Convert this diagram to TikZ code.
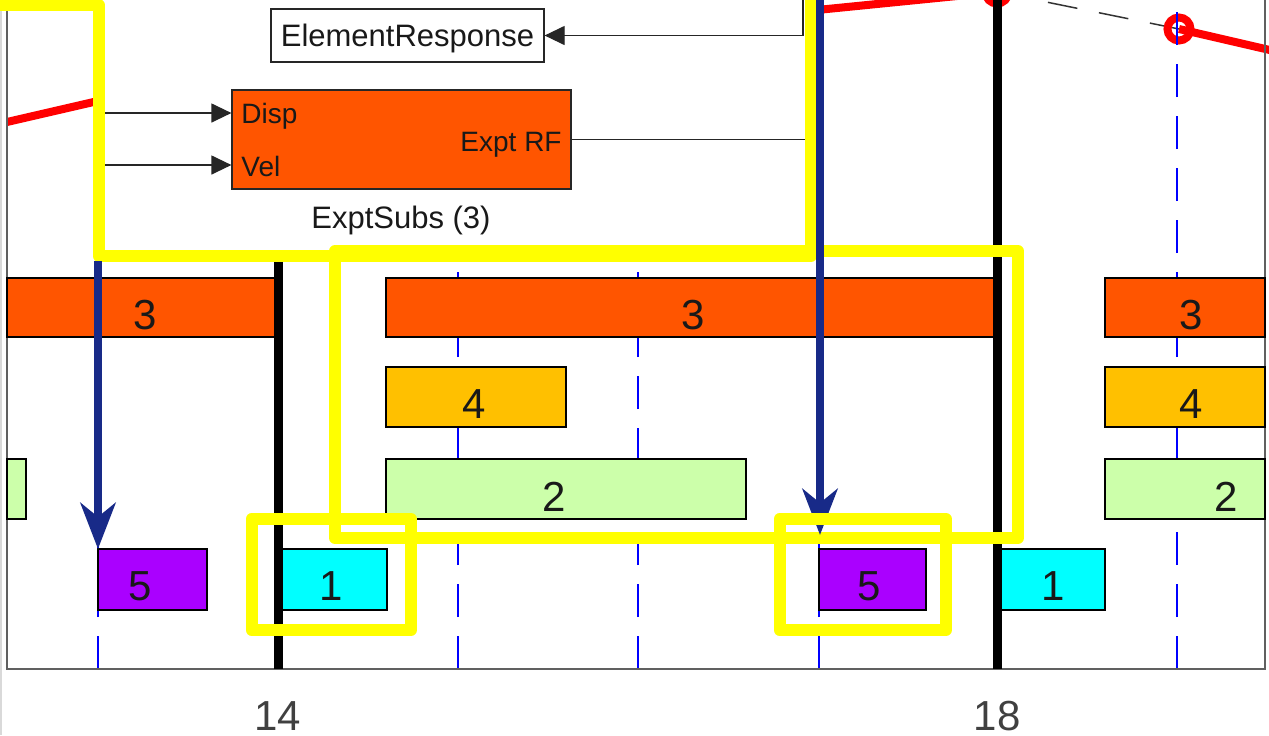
\documentclass[tikz,border=0pt]{standalone}
\usepackage{fontspec}
\setmainfont{Liberation Sans}
\usetikzlibrary{arrows.meta}
\definecolor{blkorange}{RGB}{255,85,0}
\definecolor{amber}{RGB}{255,192,0}
\definecolor{palegreen}{RGB}{204,255,170}
\definecolor{violetfill}{RGB}{170,0,255}
\definecolor{cyanfill}{RGB}{0,255,255}
\definecolor{navyarrow}{RGB}{24,42,136}
\definecolor{axisgray}{RGB}{96,96,96}
\definecolor{hilite}{RGB}{255,255,0}
\definecolor{gridblue}{RGB}{0,0,255}
\definecolor{tracered}{RGB}{255,0,0}
\begin{document}
\begin{tikzpicture}[x=0.5pt,y=-0.5pt,
  gridline/.style={draw=gridblue, line width=0.8pt, dash pattern=on 16.5pt off 9.5pt},
  holdline/.style={draw=black, line width=4.5pt},
  barbox/.style={draw=black, line width=0.7pt},
  digit/.style={font=\fontsize{21}{21}\selectfont, inner sep=0pt, text=black!90},
  tickl/.style={font=\fontsize{21}{21}\selectfont, inner sep=0pt, text=black!75},
  trace/.style={draw=tracered, line width=4pt, line join=round},
  mk/.style={draw=tracered, line width=4pt},
  hl/.style={draw=hilite, line width=6pt, line join=round},
  cue/.style={draw=navyarrow, line width=4pt, -{Stealth[length=23pt,width=17.5pt,inset=7pt]}},
  sig/.style={draw=black!85, line width=0.6pt},
  sigarrow/.style={sig, -{Triangle[length=10pt,width=9.5pt]}},
  lbl/.style={font=\fontsize{15.5}{15.5}\selectfont, inner sep=0pt, text=black!90},
  port/.style={font=\fontsize{14}{14}\selectfont, inner sep=0pt, text=black!90},
]
\useasboundingbox (0,0) rectangle (1269,735);
\clip (0,0) rectangle (1269,735);

% page edge
\draw[black!15, line width=1pt] (1,0) -- (1,735);

% response trace with markers
\draw[trace] (7,122) -- (98,101) -- (817,10) -- (997,-8);
\draw[black!80, line width=0.75pt, dash pattern=on 15pt off 11pt] (997,-8) -- (1179,29);
\draw[trace] (1179,29) -- (1300,57);
\draw[mk] (997,-8) circle[radius=5.75pt];
\draw[mk] (1179,29) circle[radius=5.75pt];

% half-step grid lines
\foreach \gx in {98,458,638,819,1177}
  \draw[gridline] (\gx,669) -- (\gx,-10);

% axes frame
\draw[axisgray, line width=0.9pt] (7,-10) -- (7,669) -- (1265,669) -- (1265,-10);

% task bars: row 3
\draw[barbox, fill=blkorange] (7,278) rectangle (278,337);
\draw[barbox, fill=blkorange] (386,278) rectangle (997,337);
\draw[barbox, fill=blkorange] (1105,278) rectangle (1265,337);
\node[digit] (r3a) at (145,315) {3};
\node[digit] (r3b) at (693,315) {3};
\node[digit] (r3c) at (1191,315) {3};
% row 4
\draw[barbox, fill=amber] (386,367) rectangle (566,427);
\draw[barbox, fill=amber] (1105,367) rectangle (1265,427);
\node[digit] (r4a) at (474,404) {4};
\node[digit] (r4b) at (1191,404) {4};
% row 2
\draw[barbox, fill=palegreen] (7,459) rectangle (26,519);
\draw[barbox, fill=palegreen] (386,459) rectangle (746,519);
\draw[barbox, fill=palegreen] (1105,459) rectangle (1265,519);
\node[digit] (r2a) at (554,497) {2};
\node[digit] (r2b) at (1226,497) {2};
% row 1 / 5
\draw[barbox, fill=violetfill] (98,549) rectangle (207,610);
\draw[barbox, fill=cyanfill] (278,549) rectangle (387,610);
\draw[barbox, fill=violetfill] (819,549) rectangle (926,610);
\draw[barbox, fill=cyanfill] (999,549) rectangle (1105,610);
\node[digit] (r5a) at (140,586) {5};
\node[digit] (r1a) at (331,586) {1};
\node[digit] (r5b) at (869,586) {5};
\node[digit] (r1b) at (1053,586) {1};

% frame boundaries
\draw[holdline] (278,0) -- (278,669);
\draw[holdline] (997,-10) -- (997,669);

% block diagram panel
\fill[white] (99,-10) rectangle (811,256);
\node[draw=black!85, line width=0.6pt, fill=white, minimum width=136.5pt,
      minimum height=26.5pt, lbl, text depth=0pt] (er) at (407.5,35.5) {ElementResponse};
\node[draw=black!85, line width=0.6pt, fill=blkorange, minimum width=169.5pt,
      minimum height=49.5pt] (es) at (401.5,139.5) {};
\node[port, anchor=base west] (esdisp) at (241,123) {Disp};
\node[port, anchor=base west] (esvel) at (241,176) {Vel};
\node[port, anchor=base east] (esout) at (562,151) {Expt RF};
\node[lbl, anchor=base] (esname) at (401,228) {ExptSubs (3)};
\coordinate (dispsrc) at (99,113);
\coordinate (velsrc) at (99,165);
\coordinate (rfbend) at (811,139.5);
\coordinate (rffeed) at (803,-10);
\draw[sigarrow] (dispsrc) -- (es.west |- dispsrc);
\draw[sigarrow] (velsrc) -- (es.west |- velsrc);
\draw[sig] (es.east) -- (rfbend);
\draw[sigarrow] (rffeed) |- (er.east);

% highlight frames
\draw[hl] (-10,5) -- (98.5,5) -- (98.5,256) -- (811,256) -- (811,-10);
\draw[hl] (335,251) rectangle (1018,538);

% trigger arrows
\coordinate (cueA0) at (98,261);
\coordinate (cueA1) at (98,549);
\coordinate (cueB0) at (820,-10);
\coordinate (cueB1) at (820,535);
\draw[cue] (cueA0) -- (cueA1);
\draw[cue] (cueB0) -- (cueB1);

\draw[hl] (251.5,519) rectangle (411,630);
\draw[hl] (779.5,519) rectangle (946,630);

% axis tick labels
\node[tickl] (t14) at (278,716) {14};
\node[tickl] (t18) at (997,716) {18};
\end{tikzpicture}
\end{document}
